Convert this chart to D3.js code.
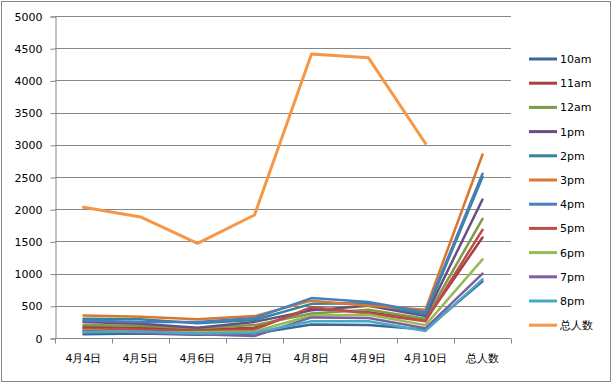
<!DOCTYPE html>
<html lang="zh">
    <head>
        <meta charset="utf-8">
        <title>hourly visitors</title>
        <script src="https://cdn.jsdelivr.net/npm/d3@7"></script>
        <style>
            body { margin: 0; background: #fff; }
            text { font-family: "DejaVu Sans", Verdana, sans-serif; font-size: 11px; fill: #000; }
        </style>
    </head>
    <body>
        <script>
            // categories
            var days = ["4月4日", "4月5日", "4月6日", "4月7日", "4月8日", "4月9日", "4月10日", "总人数"];
            var seriesNames = ["10am", "11am", "12am", "1pm", "2pm", "3pm", "4pm", "5pm", "6pm", "7pm", "8pm", "总人数"];
            var colors = ["#3E6695", "#A5403D", "#7E9A48", "#674F86", "#31859C", "#D9772D",
                          "#4A7EBB", "#BE4B48", "#98B954", "#7D60A0", "#46AAC5", "#F79646"];

            // one array per series
            var v10am = [60, 70, 50, 70, 210, 200, 130, 880];
            var v11am = [170, 160, 130, 160, 450, 400, 280, 1560];
            var v12am = [200, 190, 150, 200, 380, 440, 300, 1850];
            var v1pm  = [250, 220, 160, 250, 430, 500, 340, 2150];
            var v2pm  = [300, 290, 230, 280, 530, 540, 370, 2500];
            var v3pm  = [350, 330, 290, 340, 580, 500, 440, 2850];
            var v4pm  = [270, 250, 250, 310, 620, 560, 400, 2550];
            var v5pm  = [140, 130, 110, 130, 480, 380, 260, 1680];
            var v6pm  = [120, 90, 90, 100, 350, 360, 200, 1220];
            var v7pm  = [110, 80, 60, 30, 320, 310, 150, 1000];
            var v8pm  = [90, 100, 70, 80, 260, 260, 110, 910];
            var vTotal = [2030, 1880, 1470, 1910, 4410, 4350, 3020, null];

            var yTicks = [0, 500, 1000, 1500, 2000, 2500, 3000, 3500, 4000, 4500, 5000];

            var allSeries = [v10am, v11am, v12am, v1pm, v2pm, v3pm, v4pm, v5pm, v6pm, v7pm, v8pm, vTotal];

            var W = 614, H = 384;
            var plotL = 55, plotR = 511, plotT = 16, plotB = 338;

            var svg = d3.select("body").append("svg")
                        .attr("width", W)
                        .attr("height", H);

            // outer frame
            svg.append("rect")
               .attr("x", 1.5).attr("y", 1.5)
               .attr("width", 609).attr("height", 380)
               .attr("fill", "#fff")
               .attr("stroke", "#868686");

            var xScale = d3.scaleBand()
                           .domain(days)
                           .range([plotL, plotR]);
            var yScale = d3.scaleLinear()
                           .domain([0, 5000])
                           .range([plotB, plotT]);

            // gridlines
            svg.append("g")
               .selectAll("line")
               .data(yTicks.slice(1))
               .enter()
               .append("line")
               .attr("x1", plotL).attr("x2", plotR)
               .attr("y1", function(d) { return Math.round(yScale(d)) + 0.5; })
               .attr("y2", function(d) { return Math.round(yScale(d)) + 0.5; })
               .attr("stroke", "#868686");

            //Y axis
            var yAxis = d3.axisLeft(yScale)
                          .tickValues(yTicks)
                          .tickSize(5)
                          .tickPadding(8)
                          .tickFormat(d3.format("d"));
            var gy = svg.append("g")
                        .attr("transform", "translate(" + (plotL + 0.5) + ",0.5)")
                        .call(yAxis);
            gy.selectAll("line").attr("stroke", "#868686");
            gy.select(".domain").attr("stroke", "#868686");
            gy.selectAll("text").style("font-size", "11px").attr("fill", "#000");

            //X axis, ticks between categories
            var gx = svg.append("g")
                        .attr("transform", "translate(0," + (plotB + 0.5) + ")");
            gx.append("line")
              .attr("x1", plotL).attr("x2", plotR)
              .attr("stroke", "#868686");
            var bounds = days.map(function(d) { return xScale(d); }).concat([plotR]);
            gx.selectAll(".tk")
              .data(bounds)
              .enter()
              .append("line")
              .attr("class", "tk")
              .attr("x1", function(d) { return Math.round(d) + 0.5; })
              .attr("x2", function(d) { return Math.round(d) + 0.5; })
              .attr("y1", 0).attr("y2", 5)
              .attr("stroke", "#868686");
            gx.selectAll("text")
              .data(days)
              .enter()
              .append("text")
              .attr("x", function(d) { return xScale(d) + xScale.bandwidth() / 2; })
              .attr("y", 23)
              .attr("text-anchor", "middle")
              .text(function(d) { return d; });

            // lines
            var line = d3.line()
                         .defined(function(d) { return d != null; })
                         .x(function(d, i) { return xScale(days[i]) + xScale.bandwidth() / 2; })
                         .y(function(d) { return yScale(d); });

            svg.append("g")
               .selectAll("path")
               .data(allSeries)
               .enter()
               .append("path")
               .attr("d", line)
               .attr("fill", "none")
               .attr("stroke", function(d, i) { return colors[i]; })
               .attr("stroke-width", function(d, i) { return i == 11 ? 3 : 2.5; })
               .attr("stroke-linejoin", "round")
               .attr("stroke-linecap", "round");

            // legend
            var legend = svg.append("g")
                            .selectAll("g")
                            .data(seriesNames)
                            .enter()
                            .append("g")
                            .attr("transform", function(d, i) { return "translate(529," + (59 + i * 24.2) + ")"; });
            legend.append("line")
                  .attr("x1", 0).attr("x2", 28)
                  .attr("stroke", function(d, i) { return colors[i]; })
                  .attr("stroke-width", 3);
            legend.append("text")
                  .attr("x", 31)
                  .attr("y", 4)
                  .text(function(d) { return d; });
        </script>
    </body>
</html>
